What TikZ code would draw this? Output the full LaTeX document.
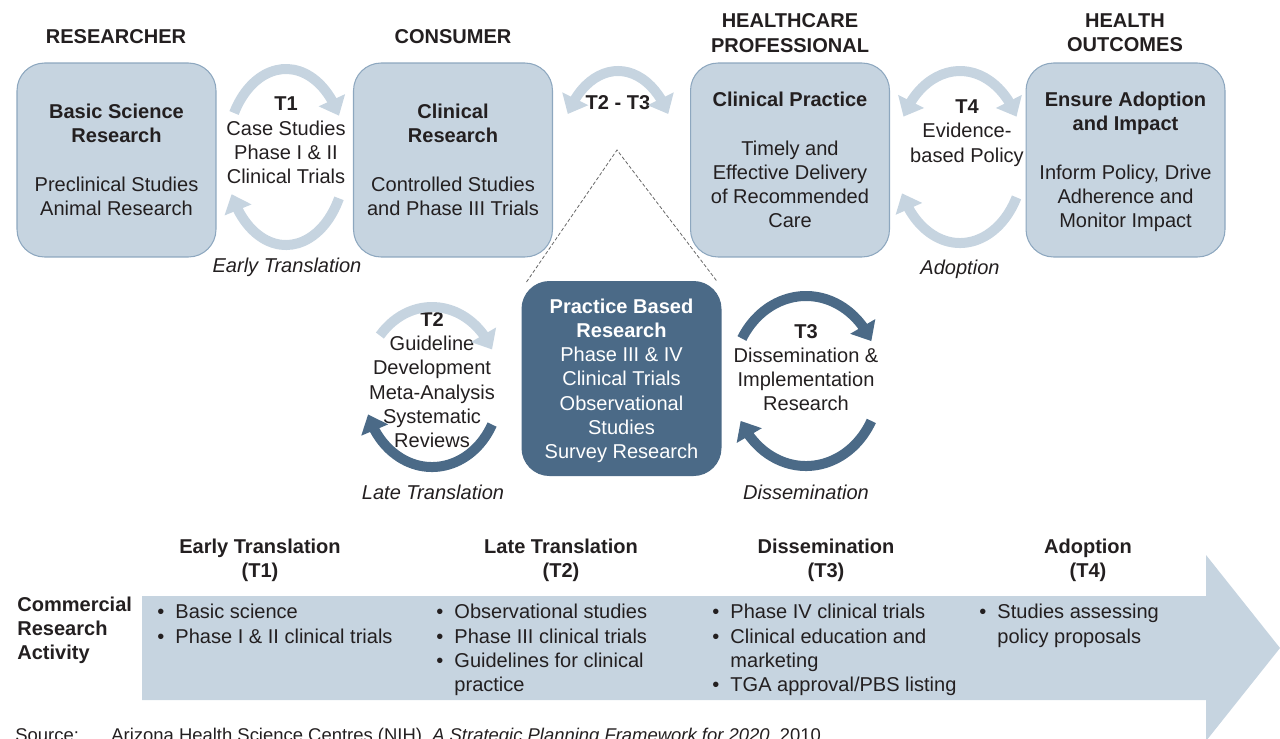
\documentclass[tikz,border=0pt]{standalone}
\usepackage{fontspec}
\setmainfont{Liberation Sans}
\usetikzlibrary{arrows.meta,bending}
\definecolor{paleblue}{HTML}{C6D4E0}
\definecolor{edgeblue}{HTML}{8DA7BF}
\definecolor{deepblue}{HTML}{4B6A87}
\definecolor{inkgray}{HTML}{231F20}
\def\bul{\makebox[10.3pt][l]{\textbullet}}
\def\ind{\hspace*{10.3pt}}
\def\gap{\\[13.8pt]}
\def\nodepth#1{\raisebox{0pt}[\height][0pt]{#1}}

\begin{document}
\begin{tikzpicture}[x=0.02cm,y=-0.02cm,
    every node/.style={font=\fontsize{11.4}{13.8}\selectfont,text=inkgray,inner sep=0pt,align=center},
    stage/.style={draw=edgeblue,line width=0.6pt,fill=paleblue,rounded corners=0.55cm,minimum width=3.98cm,minimum height=3.88cm},
    practice/.style={stage,draw=deepblue,fill=deepblue,text=white},
    head/.style={font=\fontsize{11.4}{13.8}\selectfont\bfseries},
    note/.style={font=\fontsize{11.4}{13.8}\selectfont\itshape},
    items/.style={anchor=north west,align=left},
    lightloop/.style={draw=paleblue,line width=0.2cm},
    darkloop/.style={draw=deepblue,line width=0.2cm},
    tip/.style={-{Triangle[width=0.56cm,length=0.34cm]}},
    tips/.style={{Triangle[width=0.56cm,length=0.34cm]}-{Triangle[width=0.56cm,length=0.34cm]}}]
    \useasboundingbox (0,0) rectangle (1280,738);

    % top row
    \node[head] (researcher) at (116,37) {RESEARCHER};
    \node[head] (consumer) at (453,37) {CONSUMER};
    \node[head] (professional) at (790,33) {HEALTHCARE\\PROFESSIONAL};
    \node[head] (outcomes) at (1125,33) {HEALTH\\OUTCOMES};

    \node[stage] (basic) at (116.5,160) {\textbf{Basic Science}\\\textbf{Research}\gap Preclinical Studies\\Animal Research};
    \node[stage] (clinical) at (453,160) {\textbf{Clinical}\\\textbf{Research}\gap Controlled Studies\\and Phase III Trials};
    \node[stage] (practiceC) at (790,160) {\textbf{Clinical Practice}\gap Timely and\\Effective Delivery\\of Recommended\\Care};
    \node[stage] (impact) at (1125.5,160) {\textbf{Ensure Adoption}\\\textbf{and Impact}\gap Inform Policy, Drive\\Adherence and\\\nodepth{Monitor Impact}};

    \node (t1) at (286,140.5) {\textbf{T1}\\Case Studies\\Phase I \& II\\Clinical Trials};
    \node[note] (early) at (287,265) {\nodepth{Early Translation}};
    \node[head] (t23) at (618,103) {T2 - T3};
    \node (t4) at (967,131) {\textbf{T4}\\Evidence-\\\nodepth{based Policy}};
    \node[note] (adoption) at (960,267) {\nodepth{Adoption}};

    \begin{scope}[shift={(286,157)}]
        \draw[lightloop,tip] (-150:60 and 88) arc[start angle=-150,end angle=-28,x radius=60,y radius=88];
        \draw[lightloop,tip] (28:60 and 88) arc[start angle=28,end angle=155,x radius=60,y radius=88];
    \end{scope}
    \begin{scope}[shift={(618,157)}]
        \draw[lightloop,tips] (-150:58 and 86) arc[start angle=-150,end angle=-30,x radius=58,y radius=86];
    \end{scope}
    \begin{scope}[shift={(960,157)}]
        \draw[lightloop,tips] (-152:64 and 86) arc[start angle=-152,end angle=-28,x radius=64,y radius=86];
        \draw[lightloop,tip] (28:64 and 86) arc[start angle=28,end angle=155,x radius=64,y radius=86];
    \end{scope}

    % middle row
    \node[practice] (pbr) at (621.5,378.5) {\textbf{Practice Based}\\\textbf{Research}\\Phase III \& IV\\Clinical Trials\\Observational\\Studies\\\nodepth{Survey Research}};
    \coordinate (apex) at (617,150);
    \draw[gray!80!black,line width=0.45pt,dash pattern=on 2pt off 1.2pt] (pbr.north west) ++(5,1) -- (apex) -- ([shift={(-4,1)}]pbr.north east);

    \node (t2) at (432,380) {\textbf{T2}\\Guideline\\Development\\Meta-Analysis\\Systematic\\Reviews};
    \node[note] (late) at (433,492) {Late Translation};
    \node (t3) at (806,367.5) {\textbf{T3}\\Dissemination \&\\Implementation\\Research};
    \node[note] (dissemination) at (806,492) {Dissemination};

    \begin{scope}[shift={(432,387)}]
        \draw[lightloop,tip] (-140:68 and 80) arc[start angle=-140,end angle=-28,x radius=68,y radius=80];
        \draw[darkloop,tip] (28:68 and 80) arc[start angle=28,end angle=160,x radius=68,y radius=80];
    \end{scope}
    \begin{scope}[shift={(806,381)}]
        \draw[darkloop,tip] (-150:74 and 85) arc[start angle=-150,end angle=-28,x radius=74,y radius=85];
        \draw[darkloop,tip] (28:74 and 85) arc[start angle=28,end angle=152,x radius=74,y radius=85];
    \end{scope}

    % bottom row
    \fill[paleblue] (142,596) -- (1206,596) -- (1206,555) -- (1280,648) -- (1206,741) -- (1206,700) -- (142,700) -- cycle;

    \node[head] (early2) at (260,558) {Early Translation\\\nodepth{(T1)}};
    \node[head] (late2) at (561,558) {Late Translation\\\nodepth{(T2)}};
    \node[head] (dissem2) at (826,558) {Dissemination\\\nodepth{(T3)}};
    \node[head] (adopt2) at (1088,558) {Adoption\\\nodepth{(T4)}};
    \node[head,anchor=west,align=left] (commercial) at (17,630.5) {Commercial\\Research\\Activity};

    \node[items] (list1) at (157,604) {\bul Basic science\\\bul Phase I \& II clinical trials};
    \node[items] (list2) at (436,604) {\bul Observational studies\\\bul Phase III clinical trials\\\bul Guidelines for clinical\\\ind practice};
    \node[items] (list3) at (712,604) {\bul Phase IV clinical trials\\\bul Clinical education and\\\ind marketing\\\bul TGA approval/PBS listing};
    \node[items] (list4) at (979,604) {\bul Studies assessing\\\ind policy proposals};

    \node[anchor=base west,font=\fontsize{10.5}{12}\selectfont] (source) at (15,741) {Source:};
    \node[anchor=base west,font=\fontsize{10.5}{12}\selectfont] (ref) at (111,741) {Arizona Health Science Centres (NIH), \textit{A Strategic Planning Framework for 2020}, 2010};
\end{tikzpicture}
\end{document}
